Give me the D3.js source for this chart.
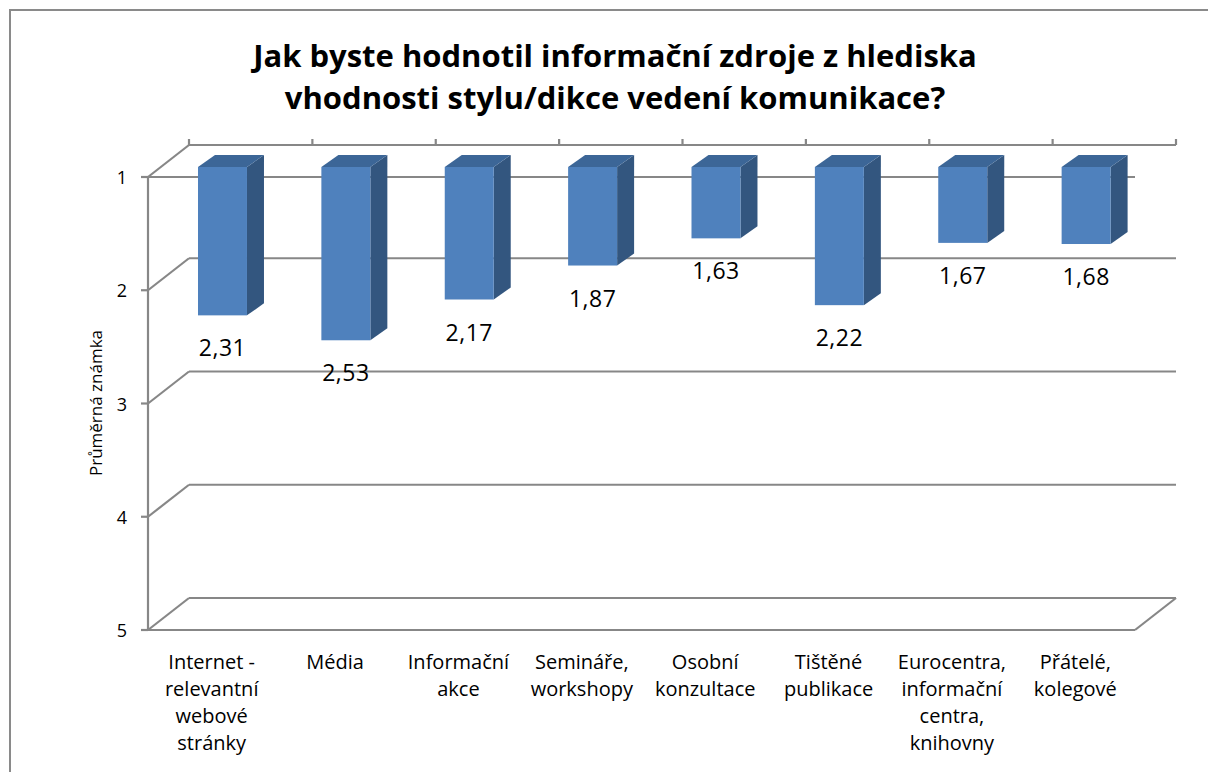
<!DOCTYPE html>
<html>
<head>
<meta charset="utf-8">
<script src="https://cdn.jsdelivr.net/npm/d3@7"></script>
<style>
  html, body { margin: 0; padding: 0; background: #fff; }
  svg { display: block; }
</style>
</head>
<body>
<svg id="chart" width="1208" height="772"></svg>
<script>
// ---- data ----
const titleLines = ["Jak byste hodnotil informační zdroje z hlediska", "vhodnosti stylu/dikce vedení komunikace?"];
const yAxisTitle = "Průměrná známka";
const categories = [
  ["Internet -", "relevantní", "webové", "stránky"],
  ["Média"],
  ["Informační", "akce"],
  ["Semináře,", "workshopy"],
  ["Osobní", "konzultace"],
  ["Tištěné", "publikace"],
  ["Eurocentra,", "informační", "centra,", "knihovny"],
  ["Přátelé,", "kolegové"]
];
const values = [2.31, 2.53, 2.17, 1.87, 1.63, 2.22, 1.67, 1.68];
const yTicks = [1, 2, 3, 4, 5];

// ---- layout ----
const svg = d3.select("#chart");
const font = "'Open Sans', sans-serif";
const plotLeft = 148, plotRight = 1135;
const depthX = 41, depthY = 32;          // oblique vector of the floor depth
const barOffX = 12.8, barOffY = 10;      // bar front face offset into the depth
const barDX = 17, barDY = 12;            // bar depth
const gridColor = "#878787";

const ids = categories.map((c, i) => i);
const x = d3.scaleBand().domain(ids).range([plotLeft, plotRight]).paddingInner(0.603).paddingOuter(0.3015);
const xCat = d3.scaleBand().domain(ids).range([plotLeft, plotRight]);
const y = d3.scaleLinear().domain([1, 5]).range([177, 630]);

// outer border
svg.append("rect").attr("x", 10).attr("y", 10).attr("width", 1210).attr("height", 780)
  .attr("fill", "none").attr("stroke", "#8a8a8a").attr("stroke-width", 2);

// title
svg.append("g").selectAll("text").data(titleLines).join("text")
  .attr("x", 615).attr("y", (d, i) => 67 + i * 42)
  .attr("text-anchor", "middle")
  .attr("font-family", font).attr("font-weight", "bold").attr("font-size", 31)
  .attr("fill", "#000").text(d => d);

// gridlines
const grid = svg.append("g").attr("stroke", gridColor).attr("stroke-width", 2.2).attr("fill", "none");
yTicks.forEach(t => {
  const yy = y(t);
  grid.append("line").attr("x1", plotLeft + depthX).attr("x2", plotRight + depthX)
    .attr("y1", yy - depthY).attr("y2", yy - depthY);
  grid.append("line").attr("x1", plotLeft).attr("y1", yy).attr("x2", plotLeft + depthX).attr("y2", yy - depthY);
});
[1, 5].forEach(t => {
  grid.append("line").attr("x1", plotLeft).attr("x2", plotRight).attr("y1", y(t)).attr("y2", y(t));
});
grid.append("line").attr("x1", plotRight).attr("y1", y(5)).attr("x2", plotRight + depthX).attr("y2", y(5) - depthY);
const catEdges = ids.map(i => xCat(i)).concat([plotRight]);
grid.selectAll("line.ct").data(catEdges).join("line").attr("class", "ct")
  .attr("x1", d => d + depthX).attr("x2", d => d + depthX)
  .attr("y1", y(1) - depthY - 6).attr("y2", y(1) - depthY);

// value axis
grid.append("line").attr("x1", plotLeft).attr("x2", plotLeft).attr("y1", y(1)).attr("y2", y(5));
grid.selectAll("line.vt").data(yTicks).join("line").attr("class", "vt")
  .attr("x1", plotLeft - 7).attr("x2", plotLeft).attr("y1", d => y(d)).attr("y2", d => y(d));

svg.append("g").selectAll("text").data(yTicks).join("text")
  .attr("x", 122).attr("y", d => y(d) + 7)
  .attr("text-anchor", "middle")
  .attr("font-family", font).attr("font-size", 18).attr("fill", "#000")
  .text(d => d);

svg.append("text")
  .attr("transform", "translate(102,403) rotate(-90)")
  .attr("text-anchor", "middle")
  .attr("font-family", font).attr("font-size", 17).attr("fill", "#000")
  .text(yAxisTitle);

// bars
const bars = svg.append("g");
ids.forEach(i => {
  const x0 = x(i) + barOffX, w = x.bandwidth();
  const yTop = y(1) - barOffY, yBot = y(values[i]) - barOffY;
  const g = bars.append("g");
  g.append("path").attr("fill", "#33567F")
    .attr("d", `M${x0 + w},${yTop}L${x0 + w + barDX},${yTop - barDY}L${x0 + w + barDX},${yBot - barDY}L${x0 + w},${yBot}Z`);
  g.append("path").attr("fill", "#3C6697")
    .attr("d", `M${x0},${yTop}L${x0 + w},${yTop}L${x0 + w + barDX},${yTop - barDY}L${x0 + barDX},${yTop - barDY}Z`);
  g.append("rect").attr("x", x0).attr("y", yTop).attr("width", w).attr("height", yBot - yTop)
    .attr("fill", "#4F81BD");
});

// data labels
const fmt = v => d3.format(".2f")(v).replace(".", ",");
svg.append("g").selectAll("text").data(ids).join("text")
  .attr("x", i => x(i) + barOffX + x.bandwidth() / 2)
  .attr("y", i => y(values[i]) - barOffY + 41)
  .attr("text-anchor", "middle")
  .attr("font-family", font).attr("font-size", 23).attr("letter-spacing", 0.5).attr("fill", "#000")
  .text(i => fmt(values[i]));

// category labels
const cl = svg.append("g").attr("font-family", font).attr("font-size", 20).attr("fill", "#000").attr("text-anchor", "middle");
ids.forEach(i => {
  cl.append("text").selectAll("tspan").data(categories[i]).join("tspan")
    .attr("x", xCat(i) + xCat.bandwidth() / 2 + 2)
    .attr("y", (d, k) => 669 + k * 27)
    .text(d => d);
});
</script>
</body>
</html>
